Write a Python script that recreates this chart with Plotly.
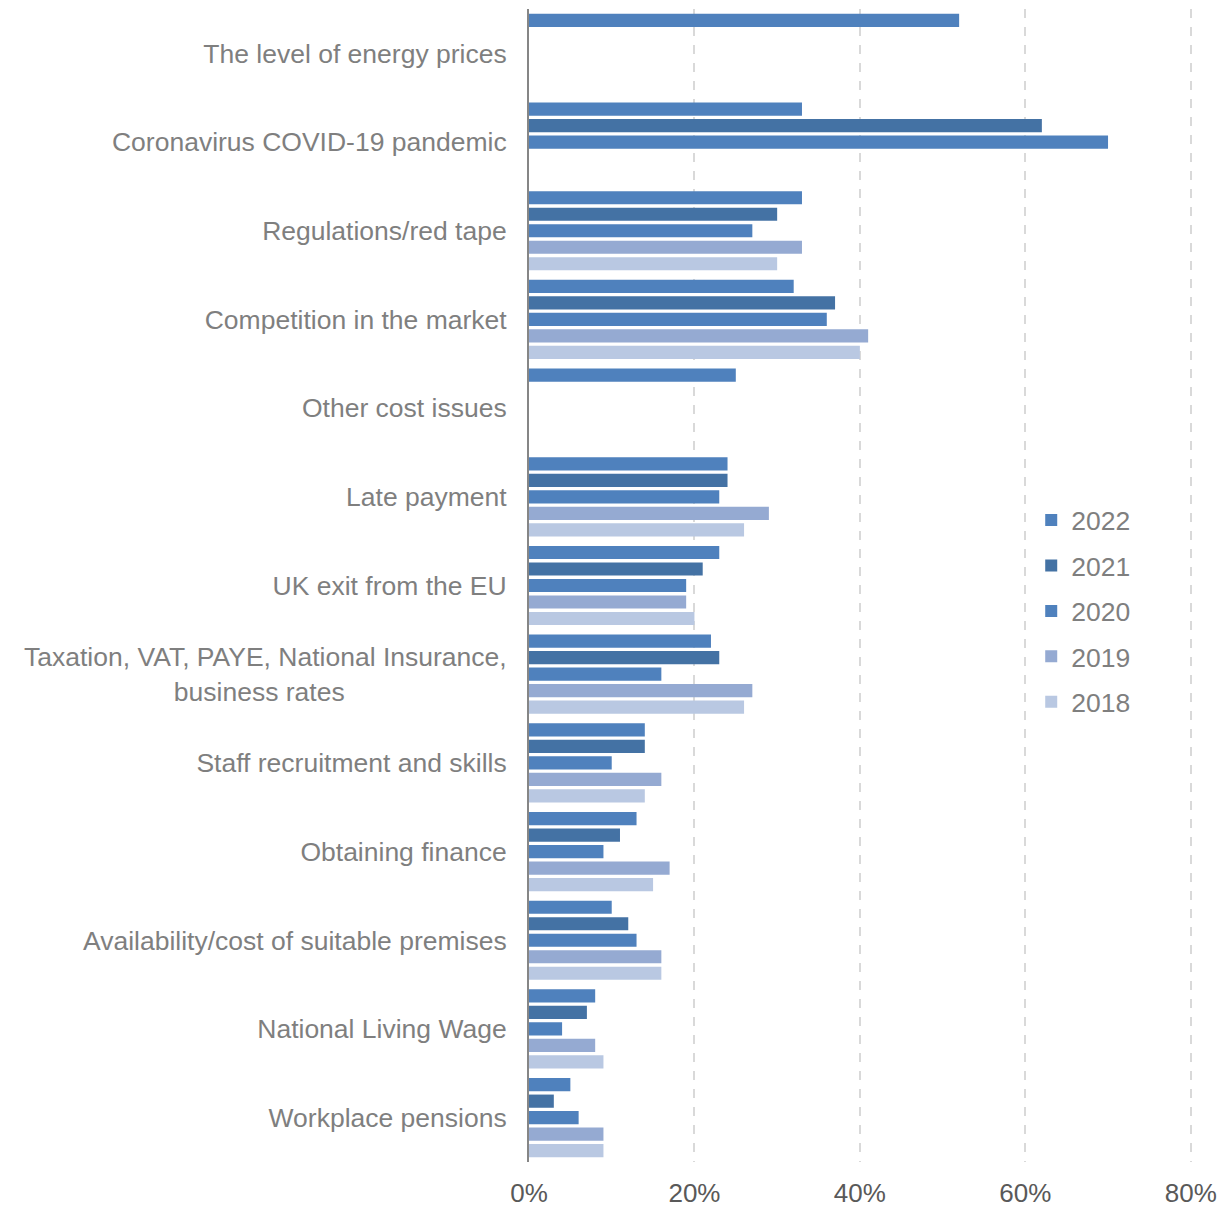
import plotly.graph_objects as go

categories = [
    "The level of energy prices",
    "Coronavirus COVID-19 pandemic",
    "Regulations/red tape",
    "Competition in the market",
    "Other cost issues",
    "Late payment",
    "UK exit from the EU",
    "Taxation, VAT, PAYE, National Insurance, business rates",
    "Staff recruitment and skills",
    "Obtaining finance",
    "Availability/cost of suitable premises",
    "National Living Wage",
    "Workplace pensions",
]

years = ["2022", "2021", "2020", "2019", "2018"]

v2022 = [52, 33, 33, 32, 25, 24, 23, 22, 14, 13, 10, 8, 5]
v2021 = [None, 62, 30, 37, None, 24, 21, 23, 14, 11, 12, 7, 3]
v2020 = [None, 70, 27, 36, None, 23, 19, 16, 10, 9, 13, 4, 6]
v2019 = [None, None, 33, 41, None, 29, 19, 27, 16, 17, 16, 8, 9]
v2018 = [None, None, 30, 40, None, 26, 20, 26, 14, 15, 16, 9, 9]

x_tickvals = [0, 20, 40, 60, 80]
x_ticktext = ["0%", "20%", "40%", "60%", "80%"]

series = [v2022, v2021, v2020, v2019, v2018]
colors = ["#4F81BD", "#4472A4", "#4F81BD", "#95AAD2", "#B9C8E2"]

ticktext = []
for c in categories:
    if c.startswith("Taxation"):
        ticktext.append("Taxation, VAT, PAYE, National Insurance,<br>business rates" + "&nbsp;" * 22)
    else:
        ticktext.append(c)

fig = go.Figure()
for yr, vals, col in zip(years, series, colors):
    fig.add_trace(go.Bar(
        y=categories, x=vals, name=yr, orientation="h",
        marker=dict(color=col, line=dict(width=0)),
        legendgroup=yr,
    ))

font_family = "Liberation Sans, Arial, sans-serif"

fig.update_layout(
    template="none",
    width=1222, height=1207,
    margin=dict(l=529, r=30, t=9, b=45),
    paper_bgcolor="white", plot_bgcolor="white",
    barmode="group", bargap=0.07, bargroupgap=0.2,
    font=dict(family=font_family, size=26.5, color="#7F7F7F"),
    showlegend=True,
    legend=dict(
        x=0.7575, y=0.5774, xanchor="left", yanchor="top",
        font=dict(size=26.5, color="#7F7F7F"),
        traceorder="grouped", tracegroupgap=8,
        bgcolor="rgba(0,0,0,0)",
    ),
    xaxis=dict(
        range=[0, 80.15], tickvals=x_tickvals, ticktext=x_ticktext,
        showgrid=True, gridcolor="#D9D9D9", griddash="dash", gridwidth=1.5,
        zeroline=False, showline=False, automargin=False,
        ticks="outside", ticklen=8, tickcolor="rgba(0,0,0,0)",
        tickfont=dict(size=26, color="#595959"),
    ),
    yaxis=dict(
        autorange="reversed",
        tickvals=categories, ticktext=ticktext,
        showline=True, linecolor="#868686", linewidth=2,
        showgrid=False, zeroline=False, automargin=False,
        ticks="outside", ticklen=15, tickcolor="rgba(0,0,0,0)",
        tickfont=dict(size=26.5, color="#7F7F7F"),
    ),
)

fig.write_html("out.html")
